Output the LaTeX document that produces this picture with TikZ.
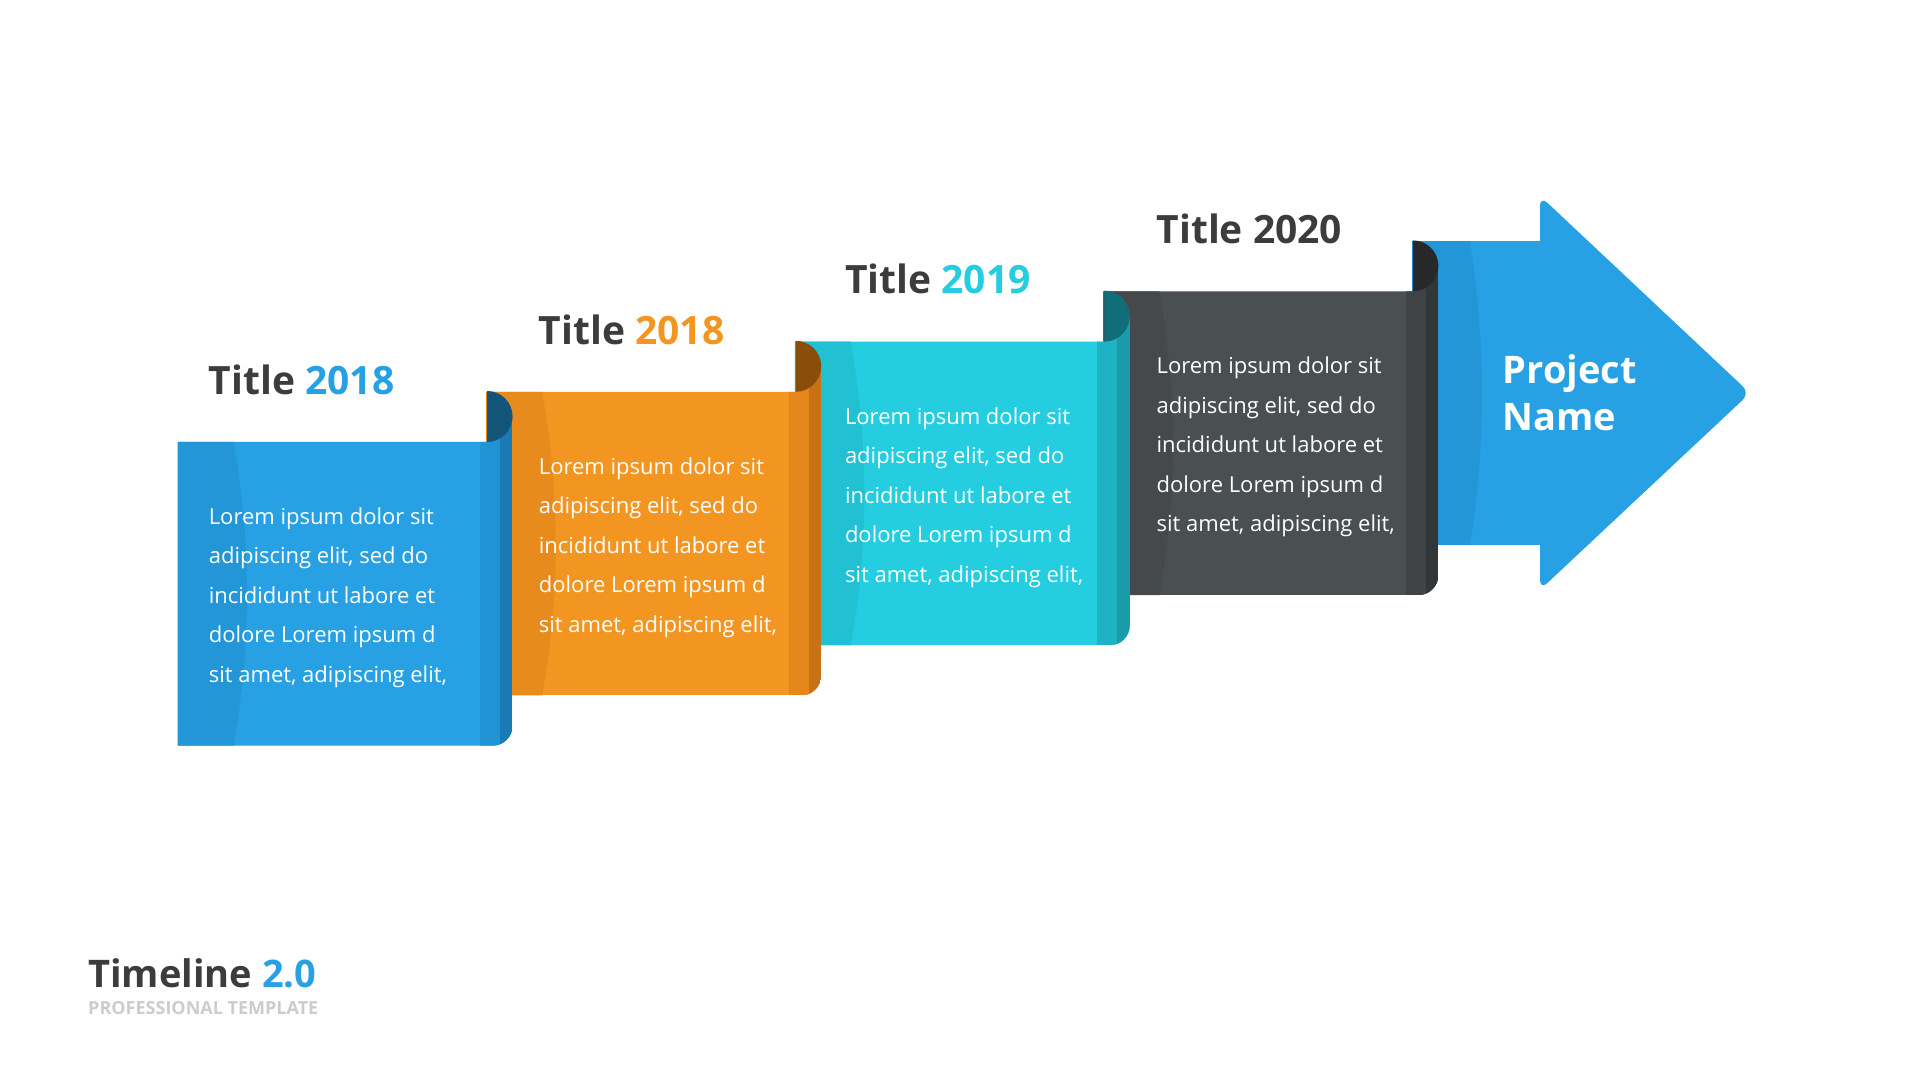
\documentclass[tikz,border=0pt]{standalone}
\usepackage{fontspec}
\setmainfont{Open Sans}
\usetikzlibrary{positioning}
\definecolor{bluemain}{HTML}{27A1E3}
\definecolor{blueband}{HTML}{2396D8}
\definecolor{blueside}{HTML}{2194D5}
\definecolor{bluedeep}{HTML}{1A7AB5}
\definecolor{bluecurl}{HTML}{135579}
\definecolor{orangemain}{HTML}{F39521}
\definecolor{orangeband}{HTML}{E88B1D}
\definecolor{orangeside}{HTML}{E5871B}
\definecolor{orangedeep}{HTML}{C97115}
\definecolor{orangecurl}{HTML}{8A4E0A}
\definecolor{tealmain}{HTML}{24CDDF}
\definecolor{tealband}{HTML}{21C0D2}
\definecolor{tealside}{HTML}{1EB3C4}
\definecolor{tealdeep}{HTML}{1A9BAA}
\definecolor{tealcurl}{HTML}{116E78}
\definecolor{graymain}{HTML}{4A4F51}
\definecolor{grayband}{HTML}{45494B}
\definecolor{grayside}{HTML}{3F4345}
\definecolor{graydeep}{HTML}{333638}
\definecolor{graycurl}{HTML}{262829}
\definecolor{txtdark}{HTML}{3A3C3D}
\definecolor{txtlight}{HTML}{CACCCE}
\tikzset{yeartitle/.style={anchor=west, inner sep=0pt, text=txtdark, font=\fontsize{39}{47}\selectfont\bfseries},
         bodytxt/.style={anchor=west, inner sep=0pt, align=left, text=white, font=\fontsize{22}{39.5}\selectfont},
         projtxt/.style={anchor=west, inner sep=0pt, align=left, text=white, font=\fontsize{38}{47.7}\selectfont\bfseries},
         brand/.style={anchor=west, inner sep=0pt, text=txtdark, font=\fontsize{38}{44}\selectfont\bfseries},
         tagline/.style={inner sep=0pt, text=txtlight, font=\fontsize{18}{20}\selectfont\bfseries}
}
\newcommand{\loremlines}{Lorem ipsum dolor sit\\ adipiscing elit, sed do\\ incididunt ut labore et\\ dolore Lorem ipsum d\\ sit amet, adipiscing elit,}

\begin{document}
\begin{tikzpicture}[x=1pt,y=1pt]
  \useasboundingbox (0,0) rectangle (1920,1080);
  \fill[white] (0,0) rectangle (1920,1080);
  % arrow at the end
  \begin{scope}[shift={(1412,535.1)}]
    \fill[bluemain, rounded corners=10] (128,349) -- (338,151.8) -- (128,-45) -- cycle;
    \begin{scope}
      \clip (0,0) rectangle (130,303.7);
      \fill[bluemain] (0,0) rectangle (130,303.7);
      \fill[blueband] (0,0) -- (0,303.7) -- (58,303.7) .. controls (74,200) and (74,100) .. (58,0) -- cycle;
    \end{scope}
    \node[projtxt] (proj) at (90.5,152) {Project\\Name};
  \end{scope}
  % the four sheets, back to front
  \foreach \i/\cl/\yr/\yc/\tx in {3/gray/2020/txtdark/53, 2/teal/2019/tealmain/50, 1/orange/2018/orangemain/52.5, 0/blue/2018/bluemain/31}{
    \begin{scope}[shift={({177.6+\i*308.6},{334.3+\i*50.2})}]
      \begin{scope}
        \clip (0,0) -- (0,303.7) -- (309.5,303.7) arc[start angle=-90,end angle=0,radius=25.5] -- (335,20) arc[start angle=0,end angle=-90,radius=20] -- cycle;
        \fill[\cl main] (0,0) rectangle (335,340);
        \fill[\cl band] (0,0) -- (0,303.7) -- (56,303.7) .. controls (74,200) and (74,100) .. (56,0) -- cycle;
        \fill[\cl side] (302.4,0) rectangle (322.4,340);
        \fill[\cl deep] (322.4,0) rectangle (335,340);
      \end{scope}
      \fill[\cl curl] (309.5,303.7) arc[start angle=-90,end angle=90,radius=25.5] -- cycle;
      \node[yeartitle] (title\i) at (\tx,366) {Title \textcolor{\yc}{\yr}};
      \node[bodytxt] (txt\i) at (\tx,148) {\loremlines};
    \end{scope}
  }
  \node[brand] (logo) at (88,106.5) {Timeline \textcolor{bluemain}{2.0}};
  \node[tagline, below=13pt of logo.south west, anchor=north west] (sub) {PROFESSIONAL TEMPLATE};
\end{tikzpicture}
\end{document}
